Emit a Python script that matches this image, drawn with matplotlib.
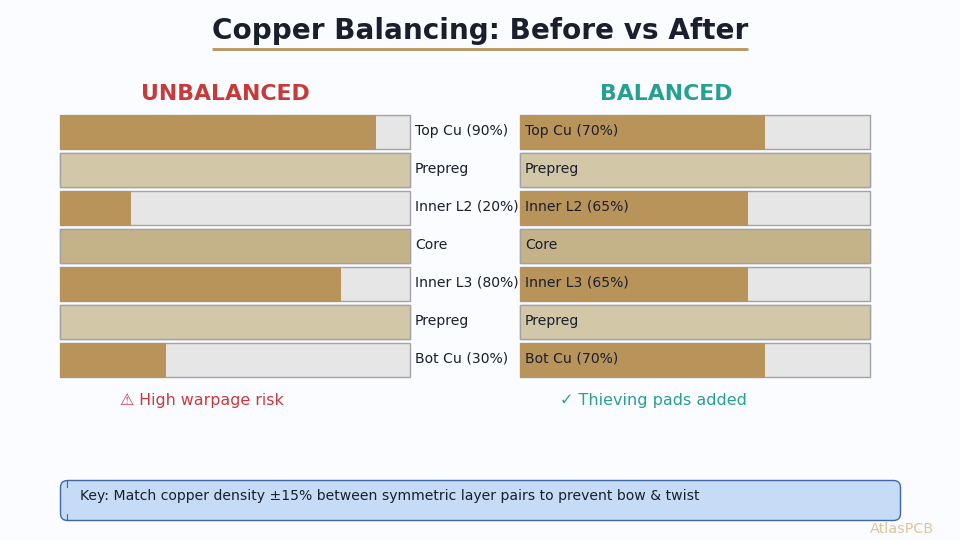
import matplotlib
matplotlib.use("Agg")
import matplotlib.pyplot as plt
from matplotlib.patches import FancyBboxPatch

plt.rcParams['font.family'] = ['DejaVu Sans']

layers_left = ["Top Cu (90%)", "Prepreg", "Inner L2 (20%)", "Core", "Inner L3 (80%)", "Prepreg", "Bot Cu (30%)"]
values_left = [90, 100, 20, 100, 80, 100, 30]
layers_right = ["Top Cu (70%)", "Prepreg", "Inner L2 (65%)", "Core", "Inner L3 (65%)", "Prepreg", "Bot Cu (70%)"]
values_right = [70, 100, 65, 100, 65, 100, 70]
kinds = ["cu", "pp", "cu", "core", "cu", "pp", "cu"]

BG = "#FAFCFF"
INK = "#1A1F2E"
COPPER = "#B8945A"
FILLS = {"cu": COPPER, "pp": "#D2C7A7", "core": "#C4B288"}
TRACK = "#E6E6E6"
EDGE = "#A3A3A3"
RED = "#C73A3A"
TEAL = "#27A094"
BOX = "#C6DBF5"
BOX_EDGE = "#3F66A6"

fig = plt.figure(figsize=(9.6, 5.4), dpi=100, facecolor=BG)
ax = fig.add_axes([0, 0, 1, 1])
ax.set_xlim(0, 960)
ax.set_ylim(540, 0)
ax.axis("off")

ROW_TOP = 115
ROW_PITCH = 38
ROW_H = 34
TRACK_W = 350


def draw_stack(x0, values, pad):
    for i, (value, kind) in enumerate(zip(values, kinds)):
        y = ROW_TOP + i * ROW_PITCH + ROW_H / 2
        ax.barh(y, TRACK_W, left=x0, height=ROW_H, color=TRACK, edgecolor=EDGE, linewidth=1, zorder=1)
        if value == 100:
            ax.barh(y, TRACK_W, left=x0, height=ROW_H, color=FILLS[kind],
                    edgecolor=EDGE, linewidth=1, zorder=2)
        else:
            ax.barh(y, TRACK_W * value / 100 + pad, left=x0, height=ROW_H + 1, color=FILLS[kind],
                    edgecolor="none", zorder=2)


draw_stack(60, values_left, 1)
draw_stack(520, values_right, 0)

for i, (a, b) in enumerate(zip(layers_left, layers_right)):
    base = ROW_TOP + i * ROW_PITCH + ROW_H / 2 + 3
    ax.text(415, base, a, fontsize=10.05, color=INK, va="baseline", ha="left", zorder=3)
    ax.text(525, base, b, fontsize=10.05, color=INK, va="baseline", ha="left", zorder=3)

ax.text(480, 39, "Copper Balancing: Before vs After", fontsize=20.1, fontweight="bold",
        color=INK, ha="center", va="baseline")
ax.plot([212, 748], [48.5, 48.5], color=COPPER, linewidth=2, solid_capstyle="butt")

ax.text(225, 100, "UNBALANCED", fontsize=15.8, fontweight="bold", color=RED, ha="center", va="baseline")
ax.text(666, 100, "BALANCED", fontsize=15.8, fontweight="bold", color=TEAL, ha="center", va="baseline")

ax.text(120, 405.5, "\u26a0 High warpage risk", fontsize=11.45, color=RED, ha="left", va="baseline")
ax.text(560, 405.5, "\u2713 Thieving pads added", fontsize=11.5, color=TEAL, ha="left", va="baseline")

key_box = FancyBboxPatch((60.5, 480.5), 840, 40, boxstyle="round,pad=0,rounding_size=7",
                         facecolor=BOX, edgecolor=BOX_EDGE, linewidth=1)
ax.add_patch(key_box)
ax.plot([67, 67], [481, 487], color=BOX_EDGE, linewidth=0.8)
ax.plot([67, 67], [514, 520], color=BOX_EDGE, linewidth=0.8)
ax.text(80, 500, "Key: Match copper density \u00b115% between symmetric layer pairs to prevent bow & twist",
        fontsize=10.1, color=INK, ha="left", va="baseline")

ax.text(870, 533, "AtlasPCB", fontsize=10.4, color="#DDC59B", ha="left", va="baseline")

fig.savefig("out.png", dpi=100, facecolor=BG)
